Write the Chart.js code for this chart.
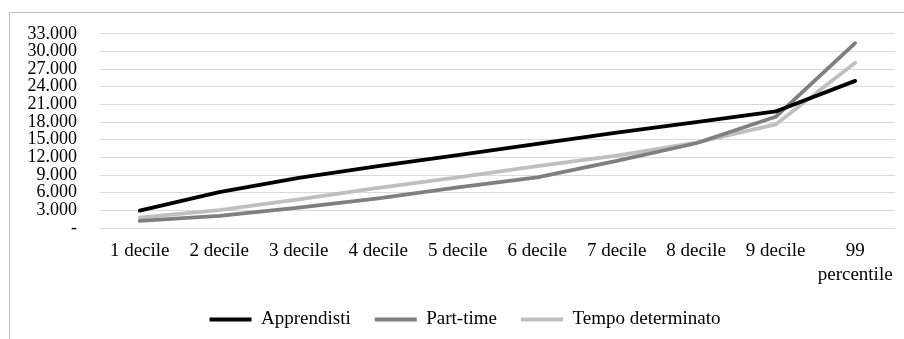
<!DOCTYPE html>
<html>
<head>
<meta charset="utf-8">
<script src="https://cdn.jsdelivr.net/npm/chart.js@4"></script>
<style>
  html, body { margin: 0; padding: 0; background: #fff; }
  #frame { position: absolute; left: 9px; top: 12px; width: 960px; height: 400px; border: 1px solid #bfbfbf; }
  #wrap { position: absolute; left: 0; top: 0; width: 904px; height: 339px; }
</style>
</head>
<body>
<div id="frame"></div>
<div id="wrap"><canvas id="chart" width="904" height="339"></canvas></div>
<script>
// Categorie (asse x) e serie
const categorie = ['1 decile', '2 decile', '3 decile', '4 decile', '5 decile',
  '6 decile', '7 decile', '8 decile', '9 decile', ['99', 'percentile']];
const apprendisti = [2950, 6100, 8500, 10500, 12400, 14300, 16200, 18000, 19800, 25000];
const partTime = [1200, 2050, 3450, 5050, 6900, 8600, 11400, 14400, 18900, 31400];
const tempoDeterminato = [1750, 3050, 4850, 6800, 8600, 10500, 12300, 14500, 17600, 28100];
const yTicks = [0, 3000, 6000, 9000, 12000, 15000, 18000, 21000, 24000, 27000, 30000, 33000];

const FONT = 'Liberation Serif';
const PLOT_BOTTOM = 228; // fondo dell'area del grafico

function serie(label, data, color) {
  return {
    label, data,
    borderColor: color, backgroundColor: color,
    borderWidth: 3.8, pointRadius: 0, tension: 0,
    borderCapStyle: 'round', borderJoinStyle: 'round'
  };
}

// sposta un po' la legenda a destra (nell'originale è centrata sull'area del grafico)
const spostaLegenda = {
  id: 'spostaLegenda',
  beforeDraw(chart) {
    if (!chart.legend || chart.legend._spostata) return;
    chart.legend.left += 17;
    chart.legend.right += 17;
    chart.legend._spostata = true;
  }
};

new Chart(document.getElementById('chart'), {
  type: 'line',
  data: {
    labels: categorie,
    datasets: [
      serie('Apprendisti', apprendisti, '#000000'),
      serie('Part-time', partTime, '#7f7f7f'),
      serie('Tempo determinato', tempoDeterminato, '#bfbfbf')
    ]
  },
  plugins: [spostaLegenda],
  options: {
    responsive: false,
    animation: false,
    layout: { padding: { top: 33, right: 8, left: 0, bottom: 0 } },
    plugins: {
      tooltip: { enabled: false },
      legend: {
        position: 'bottom',
        labels: {
          color: '#000', font: { family: FONT, size: 19 },
          boxWidth: 42, boxHeight: 4, padding: 24,
          generateLabels(chart) {
            return chart.data.datasets.map((d, i) => ({
              text: d.label, fillStyle: d.borderColor, strokeStyle: d.borderColor,
              lineWidth: 0, datasetIndex: i, fontColor: '#000'
            }));
          }
        }
      }
    },
    scales: {
      x: {
        offset: true,
        grid: { display: false, drawTicks: false },
        border: { display: false },
        ticks: { color: '#000', font: { family: FONT, size: 19, lineHeight: 1.25 }, padding: 11, maxRotation: 0, autoSkip: false },
        afterFit(s) {
          const lg = s.chart.legend ? s.chart.legend.height : 60;
          s.height = s.chart.height - PLOT_BOTTOM - lg;
        }
      },
      y: {
        min: 0, max: 33000,
        afterBuildTicks(s) { s.ticks = yTicks.map(v => ({ value: v })); },
        grid: { color: '#d9d9d9', lineWidth: 1, drawTicks: false },
        border: { display: false },
        ticks: {
          color: '#000', font: { family: FONT, size: 18 }, padding: 23, autoSkip: false,
          callback: v => v === 0 ? '-' : v.toLocaleString('it-IT')
        },
        afterFit(s) { s.width = 100; }
      }
    }
  }
});
</script>
</body>
</html>
